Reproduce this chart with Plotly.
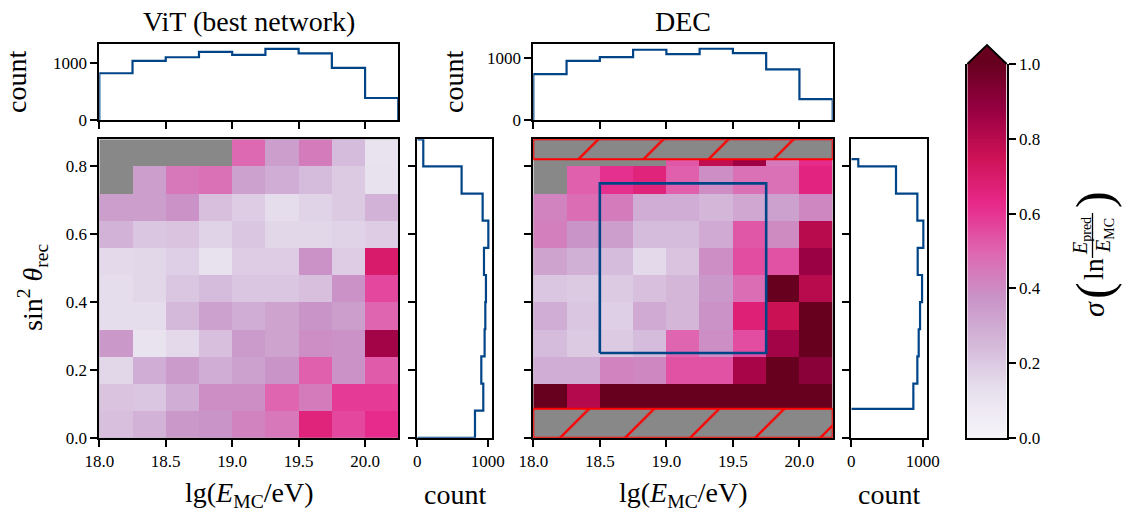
import numpy as np
import plotly.graph_objects as go

nan = np.nan

# ---------------- data ----------------
E_EDGES = [18.0, 18.25, 18.5, 18.75, 19.0, 19.25, 19.5, 19.75, 20.0, 20.25]
S_EDGES = [0.0, 0.08, 0.16, 0.24, 0.32, 0.40, 0.48, 0.56, 0.64, 0.72, 0.80, 0.88]

# sigma(ln Epred/EMC), rows from bottom (sin^2=0) to top
VIT_SIGMA = [
    [0.23, 0.27, 0.36, 0.37, 0.42, 0.45, 0.66, 0.56, 0.62],
    [0.22, 0.21, 0.29, 0.39, 0.39, 0.50, 0.44, 0.59, 0.59],
    [0.16, 0.29, 0.35, 0.29, 0.33, 0.37, 0.51, 0.38, 0.52],
    [0.36, 0.11, 0.15, 0.23, 0.35, 0.32, 0.39, 0.38, 0.85],
    [0.14, 0.14, 0.25, 0.33, 0.29, 0.32, 0.37, 0.34, 0.50],
    [0.14, 0.16, 0.21, 0.24, 0.21, 0.21, 0.23, 0.38, 0.56],
    [0.15, 0.16, 0.18, 0.12, 0.19, 0.19, 0.38, 0.19, 0.70],
    [0.27, 0.21, 0.22, 0.17, 0.21, 0.16, 0.16, 0.17, 0.19],
    [0.34, 0.34, 0.38, 0.23, 0.19, 0.14, 0.17, 0.20, 0.27],
    [nan, 0.34, 0.45, 0.47, 0.33, 0.29, 0.24, 0.20, 0.12],
    [nan, nan, nan, nan, 0.49, 0.34, 0.44, 0.24, 0.11],
]
DEC_SIGMA = [
    [nan, nan, nan, nan, nan, nan, nan, nan, nan],
    [1.20, 0.81, 1.10, 1.15, 1.20, 1.10, 1.20, 1.30, 1.25],
    [0.29, 0.29, 0.42, 0.41, 0.54, 0.54, 0.84, 1.10, 0.91],
    [0.24, 0.20, 0.20, 0.24, 0.50, 0.39, 0.55, 0.85, 1.00],
    [0.29, 0.21, 0.18, 0.30, 0.26, 0.38, 0.67, 0.76, 1.05],
    [0.21, 0.20, 0.20, 0.23, 0.26, 0.36, 0.48, 1.00, 0.80],
    [0.32, 0.28, 0.24, 0.15, 0.22, 0.39, 0.55, 0.54, 0.87],
    [0.43, 0.37, 0.34, 0.24, 0.24, 0.30, 0.53, 0.40, 0.80],
    [0.42, 0.48, 0.44, 0.29, 0.29, 0.26, 0.31, 0.33, 0.41],
    [nan, 0.51, 0.61, 0.66, 0.51, 0.39, 0.47, 0.47, 0.65],
    [nan, nan, nan, nan, 0.53, 0.78, 0.86, 0.45, 0.62],
]

VIT_E_COUNTS = [824, 1041, 1106, 1200, 1147, 1253, 1176, 918, 388]
VIT_S_COUNTS = [820, 938, 910, 957, 967, 976, 948, 1010, 929, 630, 85]
DEC_E_COUNTS = [743, 956, 1016, 1137, 1066, 1153, 1082, 820, 339]
DEC_S_EDGES = [0.0855, 0.16, 0.24, 0.32, 0.40, 0.48, 0.56, 0.64, 0.72, 0.80, 0.8214]
DEC_S_COUNTS = [869, 925, 944, 963, 991, 930, 1009, 925, 626, 98]

# excluded zenith regions (sin^2 of 17 deg and 65 deg) and the highlighted box
CUT_LO = 0.0855
CUT_HI = 0.8214
BOX_E = [18.5, 19.75]
BOX_S = [0.25, 0.75]

X_TICKS = [18.0, 18.5, 19.0, 19.5, 20.0]
Y_TICKS = [0.0, 0.2, 0.4, 0.6, 0.8]
CB_TICKS = [0.0, 0.2, 0.4, 0.6, 0.8, 1.0]
COUNT_TICKS = [0, 1000]

# ---------------- style ----------------
W, H = 1123, 518
FONT = "Liberation Serif, Times New Roman, serif"
BLUE = "#004488"
GRAY = "#888888"
PURD = [[0.0, "#f7f4f9"], [0.125, "#e7e1ef"], [0.25, "#d4b9da"], [0.375, "#c994c7"],
        [0.5, "#df65b0"], [0.625, "#e7298a"], [0.75, "#ce1256"], [0.875, "#980043"],
        [1.0, "#67001f"]]


def fx(px):
    return px / W


def fy(py):
    return 1 - py / H


HEAT_Y = [fy(437.8), fy(139.3)]
TOP_Y = [fy(120), fy(44)]
VIT_HX = [fx(99.3), fx(398.3)]
VIT_RX = [fx(417.3), fx(492.0)]
DEC_HX = [fx(533.3), fx(832.7)]
DEC_RX = [fx(851.3), fx(926.7)]
CB_X = [fx(967.3), fx(1006.7)]
CB_Y = [fy(438.0), fy(64.0)]

fig = go.Figure()


def top_hist(edges, counts, xa, ya):
    xs = [edges[0]] + list(edges[:-1]) + [edges[-1]]
    ys = [0] + list(counts) + [0]
    fig.add_trace(go.Scatter(x=xs, y=ys, mode="lines", line=dict(color=BLUE, width=2.2, shape="hv"),
                             xaxis=xa, yaxis=ya, showlegend=False, hoverinfo="skip"))


def right_hist(edges, counts, xa, ya):
    ys = [edges[0]] + list(edges[:-1]) + [edges[-1]]
    xs = [0] + list(counts) + [0]
    fig.add_trace(go.Scatter(x=xs, y=ys, mode="lines", line=dict(color=BLUE, width=2.2, shape="vh"),
                             xaxis=xa, yaxis=ya, showlegend=False, hoverinfo="skip"))


# heatmaps
fig.add_trace(go.Heatmap(x=E_EDGES, y=S_EDGES, z=VIT_SIGMA, colorscale=PURD, zmin=0, zmax=1,
                         showscale=False, xaxis="x", yaxis="y", hoverongaps=False))
fig.add_trace(go.Heatmap(x=E_EDGES, y=S_EDGES, z=DEC_SIGMA, colorscale=PURD, zmin=0, zmax=1,
                         showscale=False, xaxis="x4", yaxis="y4", hoverongaps=False))

# hatched excluded regions on DEC
emid = (E_EDGES[0] + E_EDGES[-1]) / 2
espan = E_EDGES[-1] - E_EDGES[0]
for base, top in [(S_EDGES[0], CUT_LO), (CUT_HI, S_EDGES[-1])]:
    fig.add_trace(go.Bar(x=[emid], y=[top - base], base=[base], width=[espan],
                         marker=dict(color=GRAY, line=dict(color="red", width=2),
                                     pattern=dict(shape="/", fgcolor="red", bgcolor=GRAY,
                                                  size=46, solidity=0.05)),
                         xaxis="x4", yaxis="y4", showlegend=False, hoverinfo="skip"))

# highlighted box
fig.add_trace(go.Scatter(x=[BOX_E[0], BOX_E[1], BOX_E[1], BOX_E[0], BOX_E[0]],
                         y=[BOX_S[0], BOX_S[0], BOX_S[1], BOX_S[1], BOX_S[0]],
                         mode="lines", line=dict(color=BLUE, width=2.6),
                         xaxis="x4", yaxis="y4", showlegend=False, hoverinfo="skip"))

# histograms
top_hist(E_EDGES, VIT_E_COUNTS, "x2", "y2")
right_hist(S_EDGES, VIT_S_COUNTS, "x3", "y3")
top_hist(E_EDGES, DEC_E_COUNTS, "x5", "y5")
right_hist(DEC_S_EDGES, DEC_S_COUNTS, "x6", "y6")

# colorbar as its own axis
cb_edges = np.linspace(0, 1, 257)
cb_mid = (cb_edges[:-1] + cb_edges[1:]) / 2
fig.add_trace(go.Heatmap(x=[0, 1], y=cb_edges, z=[[v] for v in cb_mid], colorscale=PURD,
                         zmin=0, zmax=1, showscale=False, xaxis="x7", yaxis="y7", hoverinfo="skip"))

tickfont = dict(family=FONT, size=17, color="black")
base_ax = dict(showline=True, linecolor="black", linewidth=1.8, mirror=True, ticks="outside",
               ticklen=7, tickwidth=1.6, tickcolor="black", showgrid=False, zeroline=False,
               tickfont=tickfont, automargin=False, fixedrange=True)

E_RANGE = [E_EDGES[0], E_EDGES[-1]]
S_RANGE = [S_EDGES[0], S_EDGES[-1]]

layout_axes = dict(
    xaxis=dict(base_ax, domain=VIT_HX, range=E_RANGE, anchor="y", tickvals=X_TICKS, tickformat=".1f"),
    yaxis=dict(base_ax, domain=HEAT_Y, range=S_RANGE, anchor="x", tickvals=Y_TICKS, tickformat=".1f"),
    xaxis2=dict(base_ax, domain=VIT_HX, range=E_RANGE, anchor="y2", tickvals=X_TICKS, showticklabels=False),
    yaxis2=dict(base_ax, domain=TOP_Y, range=[0, 1340], anchor="x2", tickvals=COUNT_TICKS),
    xaxis3=dict(base_ax, domain=VIT_RX, range=[0, 1062], anchor="y3", tickvals=COUNT_TICKS),
    yaxis3=dict(base_ax, domain=HEAT_Y, range=S_RANGE, anchor="x3", tickvals=Y_TICKS, showticklabels=False),
    xaxis4=dict(base_ax, domain=DEC_HX, range=E_RANGE, anchor="y4", tickvals=X_TICKS, tickformat=".1f"),
    yaxis4=dict(base_ax, domain=HEAT_Y, range=S_RANGE, anchor="x4", tickvals=Y_TICKS, showticklabels=False),
    xaxis5=dict(base_ax, domain=DEC_HX, range=E_RANGE, anchor="y5", tickvals=X_TICKS, showticklabels=False),
    yaxis5=dict(base_ax, domain=TOP_Y, range=[0, 1230], anchor="x5", tickvals=COUNT_TICKS),
    xaxis6=dict(base_ax, domain=DEC_RX, range=[0, 1056], anchor="y6", tickvals=COUNT_TICKS),
    yaxis6=dict(base_ax, domain=HEAT_Y, range=S_RANGE, anchor="x6", tickvals=Y_TICKS, showticklabels=False),
    xaxis7=dict(base_ax, domain=CB_X, range=[0, 1], anchor="y7", ticks="", showticklabels=False, mirror=False),
    yaxis7=dict(base_ax, domain=CB_Y, range=[0, 1], anchor="x7", side="right", tickvals=CB_TICKS,
                tickformat=".1f"),
)

# gray background for the masked (empty) heatmap cells
shapes = []
for xr, yr in [("x", "y"), ("x4", "y4")]:
    shapes.append(dict(type="rect", xref=xr, yref=yr, x0=E_RANGE[0], x1=E_RANGE[1],
                       y0=S_RANGE[0], y1=S_RANGE[1], fillcolor=GRAY, line=dict(width=0), layer="below"))

# extend-max triangle on the colorbar
tip_y = fy(45)
x0, x1 = CB_X
xm = (x0 + x1) / 2
shapes.append(dict(type="path", xref="paper", yref="paper",
                   path=f"M {x0},{CB_Y[1]} L {xm},{tip_y} L {x1},{CB_Y[1]} Z",
                   fillcolor="#67001f", line=dict(width=0)))
shapes.append(dict(type="path", xref="paper", yref="paper",
                   path=f"M {x0},{CB_Y[1]} L {xm},{tip_y} L {x1},{CB_Y[1]}",
                   line=dict(color="black", width=1.8)))
# fraction bar of the colorbar label
shapes.append(dict(type="line", xref="paper", yref="paper", x0=fx(1092.5), x1=fx(1092.5),
                   y0=fy(213), y1=fy(258), line=dict(color="black", width=1.3)))


def ann(text, px, py, angle=0, size=28):
    return dict(text=text, x=fx(px), y=fy(py), xref="paper", yref="paper", showarrow=False,
                xanchor="center", yanchor="middle", textangle=angle,
                font=dict(family=FONT, size=size, color="black"))


annotations = [
    ann("ViT (best network)", 248.8, 21),
    ann("DEC", 683, 21),
    ann("count", 16, 82, -90),
    ann("count", 453, 82, -90),
    ann("sin<sup>2</sup> <i>θ</i><sub>rec</sub>", 32, 288, -90),
    ann("lg(<i>E</i><sub>MC</sub>/eV)", 248.8, 494),
    ann("lg(<i>E</i><sub>MC</sub>/eV)", 683, 494),
    ann("count", 454.7, 494),
    ann("count", 889, 494),
    # colorbar label: sigma ( ln Epred/EMC )
    ann("<i>σ</i>", 1093, 309, -90, 30),
    ann("(", 1094, 291, -90, 50),
    ann("ln", 1093, 269, -90, 28),
    ann("<i>E</i><sub>pred</sub>", 1081, 236, -90, 20),
    ann("<i>E</i><sub>MC</sub>", 1104, 236, -90, 20),
    ann(")", 1094, 200, -90, 50),
]

fig.update_layout(
    width=W, height=H, margin=dict(l=0, r=0, t=0, b=0),
    paper_bgcolor="white", plot_bgcolor="white", template="none",
    font=dict(family=FONT, size=17, color="black"),
    showlegend=False, barmode="overlay",
    shapes=shapes, annotations=annotations,
    **layout_axes,
)

fig.write_html("out.html")
